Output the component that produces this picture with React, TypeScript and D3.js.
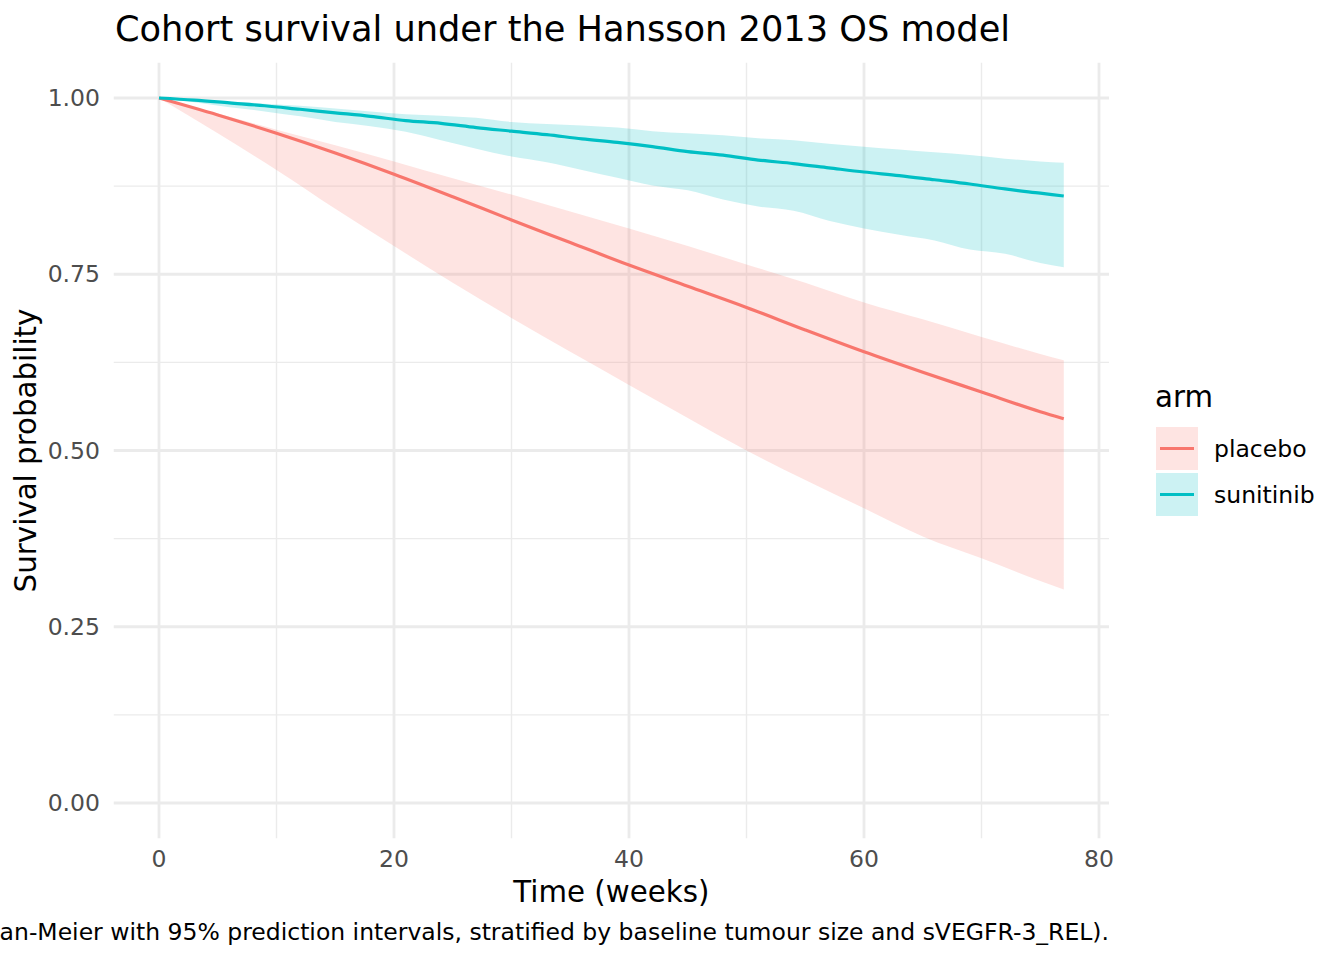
import React from "react";
import * as d3 from "d3";

// weeks at which the curves were read
const placeboTimes = [0, 5, 10, 15, 20, 25, 30, 35, 40, 45, 50, 55, 60, 65, 70, 75, 77];
const placeboMedian = [1.0, 0.976, 0.95, 0.922, 0.892, 0.86, 0.827, 0.795, 0.763, 0.733, 0.703, 0.671, 0.64, 0.611, 0.583, 0.555, 0.545];
const placeboUpper = [1.0, 0.978, 0.955, 0.933, 0.91, 0.886, 0.863, 0.839, 0.815, 0.79, 0.764, 0.738, 0.71, 0.686, 0.661, 0.637, 0.628];
const placeboLower = [1.0, 0.95, 0.898, 0.843, 0.79, 0.738, 0.688, 0.64, 0.593, 0.546, 0.5, 0.458, 0.418, 0.378, 0.347, 0.315, 0.303];

const sunitinibTimes = [0, 3, 6, 9, 12, 15, 18, 21, 24, 27, 30, 33, 36, 39, 42, 45, 48, 51, 54, 57, 60, 63, 66, 69, 72, 75, 77];
const sunitinibMedian = [
  1.0, 0.997, 0.993, 0.989, 0.984, 0.979, 0.974, 0.968, 0.964, 0.958, 0.953, 0.948, 0.942, 0.937,
  0.931, 0.924, 0.919, 0.912, 0.907, 0.901, 0.895, 0.89, 0.884, 0.878, 0.871, 0.865, 0.861,
];
const sunitinibUpper = [
  1.0, 0.998, 0.995, 0.992, 0.989, 0.985, 0.981, 0.977, 0.975, 0.972, 0.966, 0.963, 0.961, 0.958,
  0.953, 0.95, 0.947, 0.943, 0.94, 0.935, 0.931, 0.927, 0.923, 0.919, 0.914, 0.91, 0.908,
];
const sunitinibLower = [
  1.0, 0.994, 0.987, 0.981, 0.974, 0.966, 0.96, 0.952, 0.94, 0.928, 0.917, 0.909, 0.898, 0.887,
  0.876, 0.869, 0.856, 0.846, 0.84, 0.826, 0.815, 0.806, 0.798, 0.785, 0.779, 0.766, 0.76,
];

const arms = ["placebo", "sunitinib"];
const armColors = ["#F8766D", "#00BFC4"];

const xTicks = [0, 20, 40, 60, 80];
const xMinor = [10, 30, 50, 70];
const yTicks = [0, 0.25, 0.5, 0.75, 1.0];
const yMinor = [0.125, 0.375, 0.625, 0.875];

const title = "Cohort survival under the Hansson 2013 OS model";
const caption =
  "Simulated cohort survival (Kaplan-Meier with 95% prediction intervals, stratified by baseline tumour size and sVEGFR-3_REL).";

type Pt = { t: number; m: number; lo: number; hi: number };

const build = (t: number[], m: number[], lo: number[], hi: number[]): Pt[] =>
  t.map((v, i) => ({ t: v, m: m[i], lo: lo[i], hi: hi[i] }));

const series = [
  build(placeboTimes, placeboMedian, placeboLower, placeboUpper),
  build(sunitinibTimes, sunitinibMedian, sunitinibLower, sunitinibUpper),
];

const App: React.FC = () => {
  const width = 1344;
  const height = 960;
  const font = "DejaVu Sans, sans-serif";

  const x = d3.scaleLinear().domain([-3.85, 80.85]).range([113.76, 1109]);
  const y = d3.scaleLinear().domain([-0.05, 1.05]).range([838.25, 62.75]);
  const [x0, x1] = x.range();
  const [y0, y1] = y.range();

  const area = d3
    .area<Pt>()
    .x(d => x(d.t))
    .y0(d => y(d.lo))
    .y1(d => y(d.hi))
    .curve(d3.curveMonotoneX);
  const line = d3
    .line<Pt>()
    .x(d => x(d.t))
    .y(d => y(d.m))
    .curve(d3.curveMonotoneX);

  return (
    <svg
      width={width}
      height={height}
      style={{ position: "absolute", left: 0, top: 0, background: "#fff" }}
      fontFamily={font}
    >
      {/* grid */}
      {xMinor.map(v => (
        <line key={"xm" + v} x1={x(v)} x2={x(v)} y1={y0} y2={y1} stroke="#EBEBEB" strokeWidth={1.4} />
      ))}
      {yMinor.map(v => (
        <line key={"ym" + v} x1={x0} x2={x1} y1={y(v)} y2={y(v)} stroke="#EBEBEB" strokeWidth={1.4} />
      ))}
      {xTicks.map(v => (
        <line key={"xg" + v} x1={x(v)} x2={x(v)} y1={y0} y2={y1} stroke="#EBEBEB" strokeWidth={2.8} />
      ))}
      {yTicks.map(v => (
        <line key={"yg" + v} x1={x0} x2={x1} y1={y(v)} y2={y(v)} stroke="#EBEBEB" strokeWidth={2.8} />
      ))}

      {/* ribbons */}
      {series.map((s, i) => (
        <path key={"r" + i} d={area(s) || ""} fill={armColors[i]} fillOpacity={0.2} />
      ))}
      {/* lines */}
      {series.map((s, i) => (
        <path key={"l" + i} d={line(s) || ""} fill="none" stroke={armColors[i]} strokeWidth={3.2} />
      ))}

      {/* axis labels */}
      {yTicks.map(v => (
        <text
          key={"yt" + v}
          x={100}
          y={y(v)}
          dy="0.35em"
          textAnchor="end"
          fontSize={23.5}
          fill="#4D4D4D"
        >
          {d3.format(".2f")(v)}
        </text>
      ))}
      {xTicks.map(v => (
        <text key={"xt" + v} x={x(v)} y={867} textAnchor="middle" fontSize={23.5} fill="#4D4D4D">
          {v}
        </text>
      ))}

      <text x={(x0 + x1) / 2} y={902} textAnchor="middle" fontSize={29.3} fill="#000">
        Time (weeks)
      </text>
      <text
        transform={`translate(36, ${(y0 + y1) / 2}) rotate(-90)`}
        textAnchor="middle"
        fontSize={29.3}
        fill="#000"
      >
        Survival probability
      </text>

      <text x={115} y={41} fontSize={35.2} fill="#000">
        {title}
      </text>
      <text x={1109} y={940} textAnchor="end" fontSize={23.5} fill="#000">
        {caption}
      </text>

      {/* legend */}
      <text x={1155} y={407} fontSize={29.3} fill="#000">
        arm
      </text>
      {arms.map((a, i) => {
        const top = 427 + i * 46;
        return (
          <g key={a}>
            <rect x={1156} y={top} width={42} height={43} fill={armColors[i]} fillOpacity={0.2} />
            <line
              x1={1160}
              x2={1194}
              y1={top + 21.5}
              y2={top + 21.5}
              stroke={armColors[i]}
              strokeWidth={3.2}
            />
            <text x={1214} y={top + 21.5} dy="0.35em" fontSize={23.5} fill="#000">
              {a}
            </text>
          </g>
        );
      })}
    </svg>
  );
};

export default App;
